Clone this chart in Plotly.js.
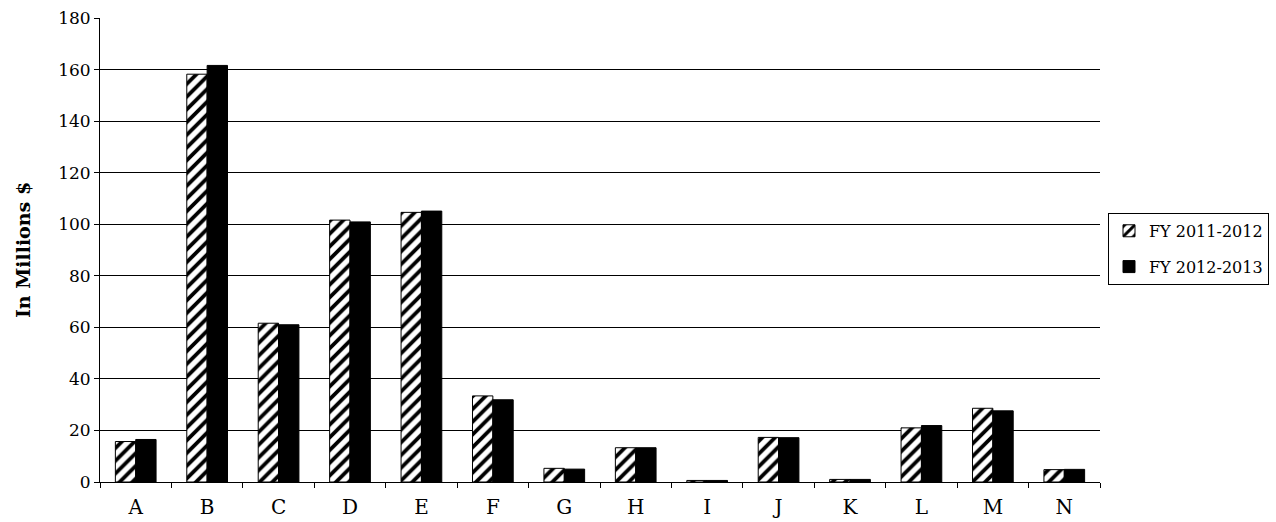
<!DOCTYPE html>
<html>
<head>
<meta charset="utf-8">
<script src="https://cdn.plot.ly/plotly-3.0.1.min.js"></script>
<style>
  html, body { margin: 0; padding: 0; background: #fff; }
  #chart { width: 1276px; height: 522px; }
</style>
</head>
<body>
<div id="chart"></div>
<script>
// Budget by program, two fiscal years (millions of dollars)
const categories = ["A", "B", "C", "D", "E", "F", "G", "H", "I", "J", "K", "L", "M", "N"];
const fy2011_2012 = [15.7, 158.2, 61.6, 101.6, 104.6, 33.4, 5.3, 13.3, 0.6, 17.3, 1.0, 21.0, 28.6, 4.8];
const fy2012_2013 = [16.5, 161.6, 61.0, 100.9, 105.1, 31.9, 5.0, 13.3, 0.6, 17.2, 1.0, 21.9, 27.6, 4.9];
const seriesNames = ["FY 2011-2012", "FY 2012-2013"];
const yTicks = [0, 20, 40, 60, 80, 100, 120, 140, 160, 180];

const FONT = "DejaVu Serif, Liberation Serif, serif";

const traces = [
  {
    type: "bar",
    name: seriesNames[0],
    legendgroup: "g1",
    x: categories,
    y: fy2011_2012,
    marker: {
      color: "#ffffff",
      line: { color: "#000000", width: 1 },
      pattern: { shape: "/", bgcolor: "#ffffff", fgcolor: "#000000", size: 9, solidity: 0.42 }
    },
    hoverinfo: "x+y+name"
  },
  {
    type: "bar",
    name: seriesNames[1],
    legendgroup: "g2",
    x: categories,
    y: fy2012_2013,
    marker: { color: "#000000", line: { color: "#000000", width: 1 } },
    hoverinfo: "x+y+name"
  }
];

const layout = {
  width: 1276,
  height: 522,
  margin: { l: 100, r: 176, t: 18, b: 40, autoexpand: false },
  paper_bgcolor: "#ffffff",
  plot_bgcolor: "#ffffff",
  font: { family: FONT, size: 17, color: "#000000" },
  barmode: "group",
  bargap: 0.43,
  bargroupgap: 0,
  showlegend: true,
  legend: {
    x: 1.008, xanchor: "left",
    y: 0.58, yanchor: "top",
    bordercolor: "#000000",
    borderwidth: 1,
    bgcolor: "#ffffff",
    font: { family: FONT, size: 16, color: "#000000" },
    tracegroupgap: 12,
    itemwidth: 30
  },
  xaxis: {
    type: "category",
    showline: true,
    linecolor: "#000000",
    linewidth: 1,
    ticks: "outside",
    tickson: "boundaries",
    ticklen: 5,
    tickcolor: "#000000",
    showgrid: false,
    ticklabelstandoff: 7,
    tickfont: { family: FONT, size: 20 },
    fixedrange: true
  },
  yaxis: {
    range: [0, 180],
    tickvals: yTicks,
    ticktext: yTicks.map(String),
    showline: true,
    linecolor: "#000000",
    linewidth: 1,
    ticks: "outside",
    ticklen: 5,
    tickcolor: "#000000",
    showgrid: true,
    gridcolor: "#000000",
    gridwidth: 1,
    zeroline: false,
    tickfont: { family: FONT, size: 17 },
    title: {
      text: "<b>In Millions $</b>",
      font: { family: FONT, size: 19 },
      standoff: 22
    },
    fixedrange: true
  }
};

Plotly.newPlot("chart", traces, layout, { displayModeBar: false, staticPlot: true });
</script>
</body>
</html>
